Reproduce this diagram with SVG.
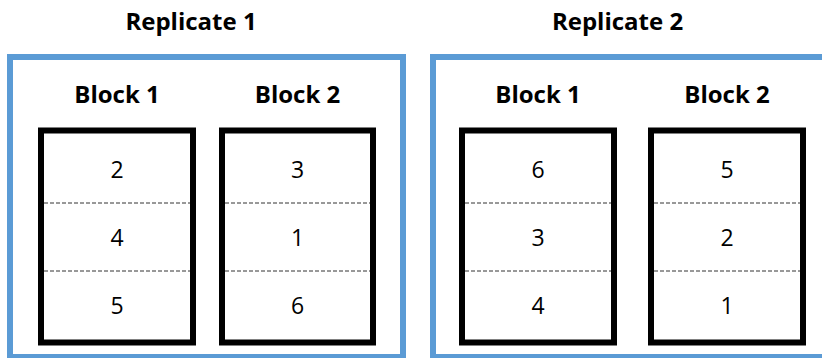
<svg xmlns="http://www.w3.org/2000/svg" width="822" height="358" viewBox="0 0 822 358">
<style>
.rep{fill:none;stroke:#5B9BD5;stroke-width:6}
.blk{fill:#fff;stroke:#000;stroke-width:6}
.div{stroke:#333;stroke-width:1;stroke-dasharray:4 2}
.title{font-family:"Open Sans","Liberation Sans",sans-serif;font-weight:bold;font-size:24px;fill:#000;text-anchor:middle}
.num{font-family:"Open Sans","Liberation Sans",sans-serif;font-size:23px;fill:#000;text-anchor:middle}
</style>
<rect width="822" height="358" fill="#fff"/>
<g id="replicate1">
<text class="title" x="191" y="30">Replicate 1</text>
<rect class="rep" x="10" y="57" width="393" height="300"/>
</g>
<g id="replicate2">
<text class="title" x="617.5" y="30">Replicate 2</text>
<rect class="rep" x="433" y="57" width="393" height="300"/>
</g>
<g id="r1b1">
<text class="title" x="117" y="103">Block 1</text>
<rect class="blk" x="41" y="130.5" width="152" height="212"/>
<line class="div" x1="44" y1="203" x2="190" y2="203"/>
<line class="div" x1="44" y1="271" x2="190" y2="271"/>
<text class="num" x="117" y="178">2</text>
<text class="num" x="117" y="246">4</text>
<text class="num" x="117" y="314">5</text>
</g>
<g id="r1b2">
<text class="title" x="297.5" y="103">Block 2</text>
<rect class="blk" x="222" y="130.5" width="151" height="212"/>
<line class="div" x1="225" y1="203" x2="370" y2="203"/>
<line class="div" x1="225" y1="271" x2="370" y2="271"/>
<text class="num" x="297.5" y="178">3</text>
<text class="num" x="297.5" y="246">1</text>
<text class="num" x="297.5" y="314">6</text>
</g>
<g id="r2b1">
<text class="title" x="538" y="103">Block 1</text>
<rect class="blk" x="462" y="130.5" width="152" height="212"/>
<line class="div" x1="465" y1="203" x2="611" y2="203"/>
<line class="div" x1="465" y1="271" x2="611" y2="271"/>
<text class="num" x="538" y="178">6</text>
<text class="num" x="538" y="246">3</text>
<text class="num" x="538" y="314">4</text>
</g>
<g id="r2b2">
<text class="title" x="727" y="103">Block 2</text>
<rect class="blk" x="651" y="130.5" width="152" height="212"/>
<line class="div" x1="654" y1="203" x2="800" y2="203"/>
<line class="div" x1="654" y1="271" x2="800" y2="271"/>
<text class="num" x="727" y="178">5</text>
<text class="num" x="727" y="246">2</text>
<text class="num" x="727" y="314">1</text>
</g>
<g id="connectors"/>
</svg>
